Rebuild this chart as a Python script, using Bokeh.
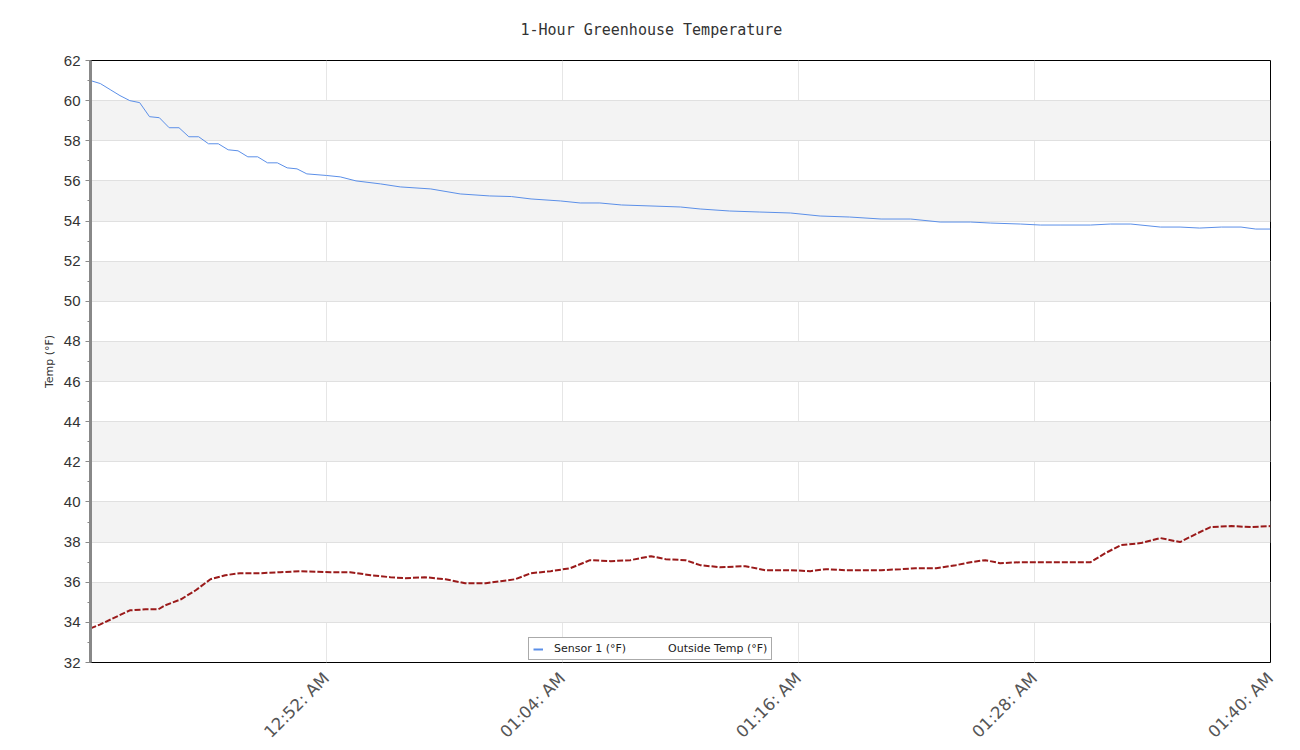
from bokeh.plotting import figure
from bokeh.models import FixedTicker, Legend, LegendItem
from bokeh.embed import file_html
from bokeh.resources import INLINE
import math

# minutes after 12:40 AM
sensor_t = [0, 0.5, 1, 1.5, 2, 2.5, 3, 3.5, 4, 4.5, 5, 5.5, 6, 6.5, 7, 7.5, 8, 8.5, 9, 9.5,
            10, 10.5, 11, 12, 12.7, 13.5, 14.75, 15.75, 17.3, 18.8, 20.3, 21.4, 22.4, 23.9,
            24.9, 25.9, 27, 28.5, 30, 31, 32.5, 34, 35.6, 37.1, 38.6, 40.2, 41.7, 43.2, 44.75,
            45.75, 47.3, 48.3, 49.3, 50.85, 51.85, 52.9, 54.4, 55.4, 56.4, 57.5, 58.5, 59.25, 60]
sensor_v = [61.0, 60.85, 60.55, 60.25, 60.0, 59.9, 59.2, 59.15, 58.65, 58.65, 58.2, 58.2,
            57.85, 57.85, 57.55, 57.5, 57.2, 57.2, 56.9, 56.9, 56.65, 56.6, 56.35, 56.27, 56.2,
            56.0, 55.85, 55.7, 55.6, 55.35, 55.25, 55.22, 55.1, 55.0, 54.9, 54.9, 54.8, 54.75,
            54.7, 54.6, 54.5, 54.45, 54.4, 54.25, 54.2, 54.1, 54.1, 53.95, 53.95, 53.9, 53.85,
            53.8, 53.8, 53.8, 53.85, 53.85, 53.7, 53.7, 53.65, 53.7, 53.7, 53.6, 53.6]

outside_t = [0, 0.5, 1.25, 2, 2.8, 3.45, 3.8, 4.6, 5.35, 6.1, 6.85, 7.6, 8.65, 9.65, 10.7,
             12.2, 13.2, 14.25, 15.25, 16, 17, 18.05, 19.05, 20.1, 20.85, 21.6, 22.4, 23.4,
             24.4, 25.4, 26.45, 27.45, 28.5, 29.25, 30.25, 31, 32, 33.3, 34.3, 35.6, 36.6,
             37.4, 38.4, 40.2, 41.2, 41.95, 43, 44, 44.75, 45.5, 46.25, 47.3, 48.55, 49.85,
             50.85, 51.6, 52.4, 53.4, 54.4, 55.4, 56.2, 56.95, 58, 59, 60]
outside_v = [33.7, 33.9, 34.25, 34.6, 34.65, 34.65, 34.85, 35.15, 35.6, 36.15, 36.35, 36.45,
             36.45, 36.5, 36.55, 36.5, 36.5, 36.35, 36.25, 36.2, 36.25, 36.15, 35.95, 35.95,
             36.05, 36.15, 36.45, 36.55, 36.7, 37.1, 37.05, 37.1, 37.3, 37.15, 37.1, 36.85,
             36.75, 36.8, 36.6, 36.6, 36.55, 36.65, 36.6, 36.6, 36.65, 36.7, 36.7, 36.85, 37.0,
             37.1, 36.95, 37.0, 37.0, 37.0, 37.0, 37.45, 37.85, 37.95, 38.2, 38.0, 38.4, 38.75,
             38.8, 38.75, 38.8]

x_ticks = [12, 24, 36, 48, 60]
x_tick_labels = ["12:52: AM", "01:04: AM", "01:16: AM", "01:28: AM", "01:40: AM"]
y_ticks = list(range(32, 63, 2))
y_minor = list(range(33, 62, 2))

p = figure(width=1300, height=750, output_backend="svg", toolbar_location=None,
           x_range=(0, 60), y_range=(32, 62),
           min_border_left=90, min_border_right=30, min_border_top=60, min_border_bottom=88,
           frame_width=1180, frame_height=602,
           title="1-Hour Greenhouse Temperature")
p.title.align = "left"
p.title.offset = 430
p.title.standoff = 40
p.title.vertical_align = "top"
p.title.text_font = "DejaVu Sans Mono"
p.title.text_font_size = "15px"
p.title.text_font_style = "normal"
p.title.text_color = "#333333"

p.outline_line_color = "black"
p.outline_line_width = 1
p.background_fill_color = "white"
p.border_fill_color = "white"

# y axis
p.yaxis.ticker = FixedTicker(ticks=y_ticks, minor_ticks=y_minor)
p.yaxis.axis_label = "Temp (°F)"
p.yaxis.axis_label_text_font = "DejaVu Sans"
p.yaxis.axis_label_text_font_size = "11px"
p.yaxis.axis_label_text_font_style = "normal"
p.yaxis.axis_label_text_color = "#333333"
p.yaxis.major_label_text_font = "Liberation Sans"
p.yaxis.major_label_text_font_size = "15px"
p.yaxis.major_label_text_color = "#333333"
p.yaxis.axis_line_color = "#888888"
p.yaxis.axis_line_width = 3
p.yaxis.major_tick_line_color = "#888888"
p.yaxis.minor_tick_line_color = "#888888"
p.yaxis.major_tick_out = 5
p.yaxis.major_tick_in = 0
p.yaxis.minor_tick_out = 3
p.yaxis.minor_tick_in = 0

# x axis
p.xaxis.ticker = FixedTicker(ticks=x_ticks)
p.xaxis.major_label_overrides = {t: l for t, l in zip(x_ticks, x_tick_labels)}
p.xaxis.major_label_orientation = math.pi / 4
p.xaxis.major_label_standoff = 7
p.xaxis.major_label_text_font = "DejaVu Sans"
p.xaxis.major_label_text_font_size = "16.5px"
p.xaxis.major_label_text_color = "#555555"
p.xaxis.axis_line_color = None
p.xaxis.major_tick_line_color = None
p.xaxis.minor_tick_line_color = None

# grids
p.xgrid.grid_line_color = "#e6e6e6"
p.ygrid.grid_line_color = "#e0e0e0"
p.ygrid.band_fill_color = "#f3f3f3"
p.ygrid.band_fill_alpha = 1.0

r1 = p.line(sensor_t, sensor_v, line_color="#5b8fe8", line_width=1)
r2 = p.line(outside_t, outside_v, line_color="#9a1a1a", line_width=2, line_dash="6 2")
# legend-only renderers (kept outside the visible range)
r1_leg = p.line([-100, -99], [0, 0], line_color="#5b8fe8", line_width=2)
r2_leg = p.line([-100, -99], [0, 0], line_alpha=0)

legend = Legend(items=[LegendItem(label="Sensor 1 (°F)", renderers=[r1_leg]),
                       LegendItem(label="Outside Temp (°F)", renderers=[r2_leg])],
                location=(438, 2), orientation="horizontal")
legend.label_text_font = "DejaVu Sans"
legend.label_text_font_size = "11px"
legend.label_text_color = "#222222"
legend.border_line_color = "#555555"
legend.border_line_width = 1
legend.background_fill_alpha = 1
legend.padding = 4
legend.margin = 0
legend.spacing = 21
legend.glyph_width = 10
legend.glyph_height = 10
legend.label_standoff = 11
legend.label_height = 10
p.add_layout(legend, "center")

open("out.html", "w").write(file_html(p, INLINE))
